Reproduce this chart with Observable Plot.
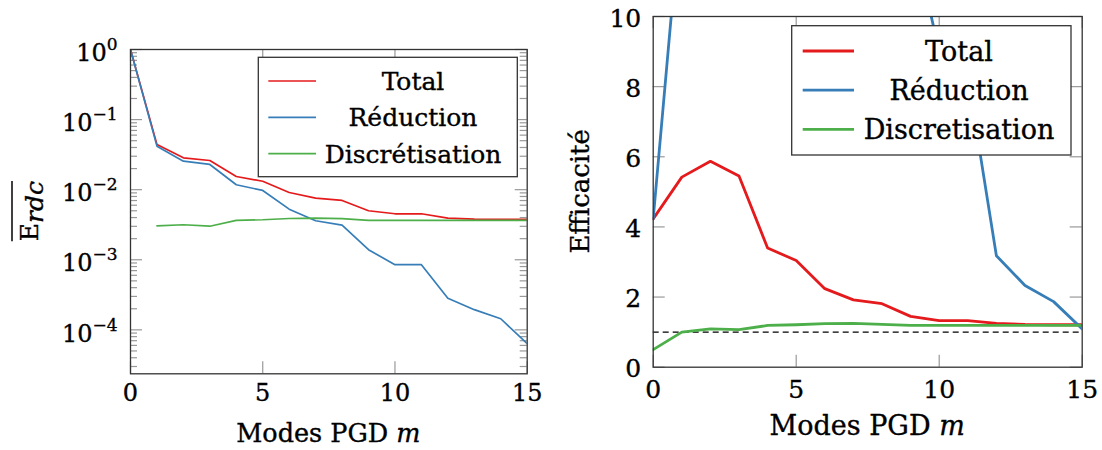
<!DOCTYPE html>
<html><head><meta charset="utf-8">
<script src="https://cdn.jsdelivr.net/npm/d3@7"></script>
<script src="https://cdn.jsdelivr.net/npm/@observablehq/plot@0.6"></script>
<style>
body{margin:0;background:#fff;}
#wrap{display:flex;width:1102px;height:450px;background:#fff;}
#wrap svg{display:block;}
#wrap svg text{stroke:#000;stroke-width:0.35px;}
</style></head><body><div id="wrap"></div>
<script>
// ---------- data ----------
const modes = [0,1,2,3,4,5,6,7,8,9,10,11,12,13,14,15];
// left: mean error (log scale)
const errTotal = [1, 0.0441, 0.0285, 0.0261, 0.0154, 0.0132, 0.00912, 0.00757, 0.00702, 0.0050, 0.00453, 0.00453, 0.00392, 0.00379, 0.00376, 0.00376];
const errReduction = [1, 0.0418, 0.0255, 0.0229, 0.01175, 0.00975, 0.00527, 0.0036, 0.00312, 0.00139, 0.00085, 0.00085, 0.000283, 0.000194, 0.000144, 0.0000634];
const errDiscretisation = [null, 0.00305, 0.00316, 0.00301, 0.00364, 0.00372, 0.00388, 0.00392, 0.00386, 0.00364, 0.00364, 0.00364, 0.00364, 0.00364, 0.00364, 0.00364];
// right: efficiency
const effTotal = [4.23, 5.42, 5.87, 5.45, 3.40, 3.04, 2.24, 1.92, 1.81, 1.45, 1.33, 1.33, 1.25, 1.22, 1.21, 1.21];
const effReduction = [4.23, 13.4, 22, 26, 31, 28, 34, 30, 24, 12.6, 9.0, 8.3, 3.18, 2.33, 1.87, 1.09];
const effDiscretisation = [0.50, 1.00, 1.09, 1.07, 1.19, 1.21, 1.24, 1.25, 1.22, 1.19, 1.19, 1.19, 1.19, 1.19, 1.19, 1.19];
const effReference = [1];

const namesLeft = ["Total", "Réduction", "Discrétisation"];
const namesRight = ["Total", "Réduction", "Discretisation"];
const colors = ["#e41a1c", "#377eb8", "#4daf4a"];

const xTicks = [0, 5, 10, 15];
const logTicks = [1e-4, 1e-3, 1e-2, 1e-1, 1];
const logMinor = [3e-5,4e-5,5e-5,6e-5,7e-5,8e-5,9e-5,
  2e-4,3e-4,4e-4,5e-4,6e-4,7e-4,8e-4,9e-4,
  2e-3,3e-3,4e-3,5e-3,6e-3,7e-3,8e-3,9e-3,
  2e-2,3e-2,4e-2,5e-2,6e-2,7e-2,8e-2,9e-2,
  0.2,0.3,0.4,0.5,0.6,0.7,0.8,0.9];
const effTicks = [0, 2, 4, 6, 8, 10];

const xTitle = "Modes PGD ", xTitleVar = "m";
const yTitleLeft = "E", yTitleLeftSub = "rdc";
const yTitleRight = "Efficacité";

const FONT = "DejaVu Serif";
const tickStyle = {stroke: "#999", strokeWidth: 1.2};

function chart(o) {
  const fw = o.width - o.mL - o.mR, fh = o.height - o.mT - o.mB;
  const marks = [];
  marks.push(Plot.tickY(o.yTicks, {y: d => d, insetRight: fw - 12, ...tickStyle}));
  marks.push(Plot.tickY(o.yTicks, {y: d => d, insetLeft: fw - 12, ...tickStyle}));
  if (o.yMinor) {
    marks.push(Plot.tickY(o.yMinor, {y: d => d, insetRight: fw - 7, ...tickStyle}));
    marks.push(Plot.tickY(o.yMinor, {y: d => d, insetLeft: fw - 7, ...tickStyle}));
  }
  marks.push(Plot.tickX(xTicks, {x: d => d, insetTop: fh - 12, ...tickStyle}));
  marks.push(Plot.tickX(xTicks, {x: d => d, insetBottom: fh - 12, ...tickStyle}));
  if (o.ref) marks.push(Plot.ruleY(o.ref, {y: d => d, stroke: "#000", strokeWidth: 1.2, strokeDasharray: "6,4"}));
  o.series.forEach((vals, i) => {
    marks.push(Plot.line(modes, {x: modes, y: vals, stroke: colors[i], strokeWidth: o.lw, clip: true}));
  });
  marks.push(Plot.frame({stroke: "#333", strokeWidth: 1.3}));
  marks.push(Plot.axisX({ticks: xTicks, tickSize: 0, tickPadding: o.xPad, label: null, fontSize: o.tickFs}));
  marks.push(Plot.axisY({ticks: o.yTicks, tickSize: 0, tickPadding: o.yPad, dy: o.yDy, label: null,
    tickFormat: o.yFormat, fontSize: o.tickFs}));
  return Plot.plot({
    width: o.width, height: o.height,
    marginLeft: o.mL, marginRight: o.mR, marginTop: o.mT, marginBottom: o.mB,
    style: {fontFamily: FONT, fontSize: o.tickFs + "px", background: "white", color: "black", overflow: "visible"},
    x: {domain: [0, 15]},
    y: o.yScale,
    marks
  });
}

function legend(svg, o, names) {
  const g = d3.select(svg).append("g");
  g.append("rect").attr("x", o.x0).attr("y", o.y0).attr("width", o.x1 - o.x0).attr("height", o.y1 - o.y0)
    .attr("fill", "white").attr("stroke", "#333").attr("stroke-width", 1.3);
  names.forEach((n, i) => {
    const ry = o.y0 + o.first + i * o.step;
    g.append("line").attr("x1", o.s0).attr("x2", o.s1).attr("y1", ry).attr("y2", ry)
      .attr("stroke", colors[i]).attr("stroke-width", o.lw);
    g.append("text").attr("x", o.tx).attr("y", ry + o.fs * 0.36).attr("text-anchor", "middle")
      .attr("font-size", o.fs).attr("fill", "black").text(n);
  });
}

function xTitleAdd(svg, cx, y, fs) {
  const t = d3.select(svg).append("text").attr("x", cx).attr("y", y).attr("text-anchor", "middle")
    .attr("font-size", fs).attr("fill", "black");
  t.append("tspan").text(xTitle);
  t.append("tspan").attr("font-style", "italic").text(xTitleVar);
}

const wrap = document.getElementById("wrap");

// ---------- left chart ----------
const L = {width: 551, height: 450, mL: 130, mR: 24.3, mT: 49, mB: 76.7};
const left = chart({...L, yTicks: logTicks, yMinor: logMinor,
  yScale: {type: "log", domain: [2.36e-5, 1]},
  series: [errTotal, errReduction, errDiscretisation], lw: 1.7,
  xPad: 10, yPad: 13, yDy: 4, tickFs: 24,
  yFormat: d => "10^" + Math.round(Math.log10(d))});
wrap.appendChild(left);
d3.select(left).selectAll('g[aria-label="y-axis tick label"] text').each(function () {
  const s = this.textContent;
  if (!s.includes("^")) return;
  const [b, e] = s.split("^");
  const sel = d3.select(this);
  sel.text(b);
  sel.append("tspan").attr("dy", -11).attr("font-size", 17).text(e.replace("-", "\u2212"));
});
legend(left, {x0: 258.3, x1: 517.3, y0: 57.3, y1: 176.7, first: 23.7, step: 36.3,
  s0: 268.3, s1: 316, tx: 413, fs: 25, lw: 1.7}, namesLeft);
xTitleAdd(left, (L.mL + L.width - L.mR) / 2, 442, 25.5);
{
  const g = d3.select(left).append("g").attr("transform", `translate(38,${(L.mT + L.height - L.mB) / 2}) rotate(-90)`);
  const t = g.append("text").attr("text-anchor", "middle").attr("font-size", 25).attr("fill", "black");
  t.append("tspan").text(yTitleLeft);
  t.append("tspan").attr("font-style", "italic").attr("dy", 5).text(yTitleLeftSub);
  const bb = t.node().getBBox();
  g.append("line").attr("x1", bb.x).attr("x2", bb.x + bb.width).attr("y1", -26).attr("y2", -26)
    .attr("stroke", "black").attr("stroke-width", 1.5);
}

// ---------- right chart ----------
const R = {width: 551, height: 450, mL: 101.7, mR: 20.3, mT: 16, mB: 83.3};
const right = chart({...R, yTicks: effTicks, yMinor: null,
  yScale: {domain: [0, 10]},
  series: [effTotal, effReduction, effDiscretisation], lw: 2.8, ref: effReference,
  xPad: 13, yPad: 12, yDy: 2, tickFs: 25,
  yFormat: d => String(d)});
wrap.appendChild(right);
legend(right, {x0: 240.7, x1: 520, y0: 25.7, y1: 155, first: 25.3, step: 39.15,
  s0: 251.7, s1: 303, tx: 408, fs: 27, lw: 2.8}, namesRight);
xTitleAdd(right, (R.mL + R.width - R.mR) / 2, 435, 27);
d3.select(right).append("text")
  .attr("transform", `translate(38,${(R.mT + R.height - R.mB) / 2}) rotate(-90)`)
  .attr("text-anchor", "middle").attr("font-size", 26).attr("fill", "black").text(yTitleRight);
</script></body></html>
